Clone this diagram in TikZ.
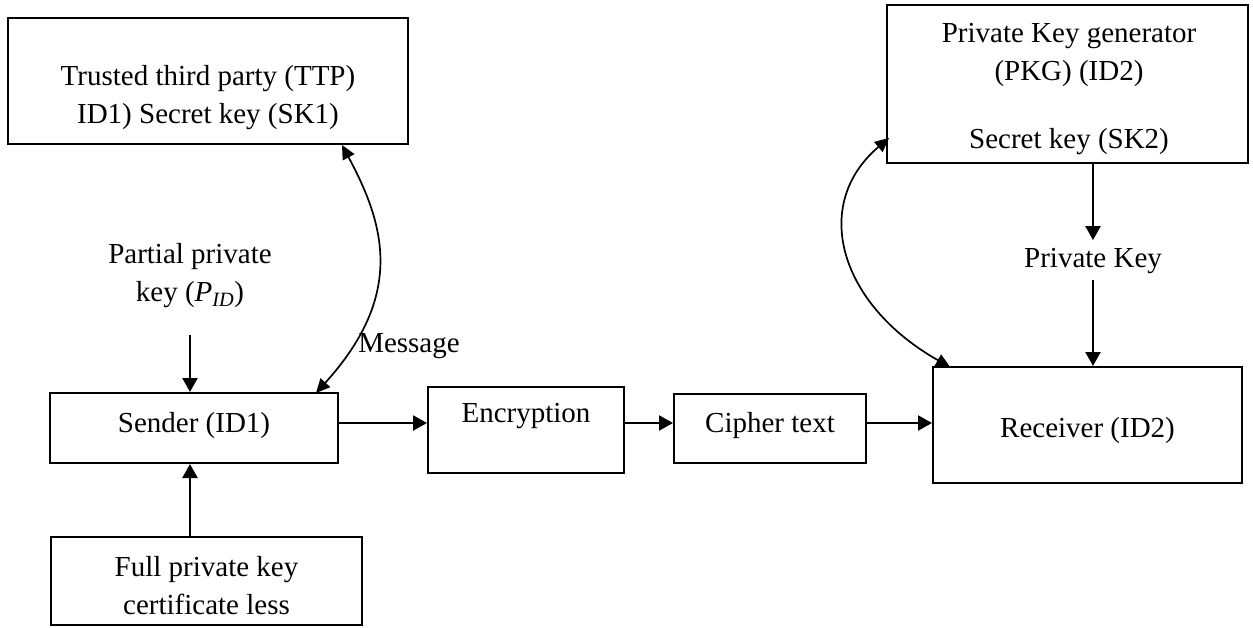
\documentclass[tikz,border=0pt]{standalone}
\usepackage{fontspec}
\setmainfont{Liberation Serif}
\usetikzlibrary{arrows.meta,calc}
\begin{document}
\begin{tikzpicture}[x=1pt,y=-1pt,
  box/.style={draw,line width=2pt,inner sep=0pt,anchor=center},
  txt/.style={inner sep=0pt,align=center,font=\fontsize{29}{38}\selectfont},
  arr/.style={line width=2.2pt,-{Triangle[length=14pt,width=15pt]}},
  curv/.style={line width=1.7pt,{Triangle[length=14pt,width=13pt]}-{Triangle[length=14pt,width=13pt]}}]
\useasboundingbox (0,0) rectangle (1253,628);
% boxes
\node[box,minimum width=400,minimum height=126] (ttp) at (208,81) {};
\node[txt] (ttpt) at (208,98) {Trusted third party (TTP)\\ID1) Secret key (SK1)};
\node[box,minimum width=361,minimum height=158] (pkg) at (1067.5,84) {};
\node[txt] (pkgt) at (1069,55) {Private Key generator\\(PKG) (ID2)};
\node[txt] (pkgs) at (1069,142) {Secret key (SK2)};
\node[box,minimum width=288,minimum height=70] (sender) at (194,428) {};
\node[txt] (sendert) at (194,426) {Sender (ID1)};
\node[box,minimum width=311,minimum height=88] (full) at (206.5,581) {};
\node[txt] (fullt) at (206.5,586) {Full private key\\certificate less};
\node[box,minimum width=196,minimum height=86] (enc) at (526,430) {};
\node[txt] (enct) at (526,416) {Encryption};
\node[box,minimum width=192,minimum height=69] (cip) at (770,428.5) {};
\node[txt] (cipt) at (770,426) {Cipher text};
\node[box,minimum width=309,minimum height=116] (rec) at (1087.5,425) {};
\node[txt] (rect) at (1087.5,431) {Receiver (ID2)};
% labels
\node[txt] (partial) at (190,276) {Partial private\\key (\textit{P}\textsubscript{\textit{ID}})};
\node[txt] (privkey) at (1093,261) {Private Key};
\node[txt] (msg) at (409,346) {Message};
% coordinates
\coordinate (pa) at (190,335);
\coordinate (pk1) at (1093,280);
\coordinate (row) at (0,423);
\coordinate (sTop) at (316,393);
\coordinate (tBot) at (342,145);
\coordinate (rTop) at (950,367);
\coordinate (pLeft) at (889,138);
% arrows
\draw[arr] (pa) -- (pa |- sender.north);
\draw[arr] ([xshift=-4pt]sender.south |- full.north) -- ([xshift=-4pt]sender.south);
\draw[arr] (sender.east |- row) -- (enc.west |- row);
\draw[arr] (enc.east |- row) -- (cip.west |- row);
\draw[arr] (cip.east |- row) -- (rec.west |- row);
\draw[arr] (pkg.south -| privkey) -- ([yshift=8pt]privkey.north);
\draw[arr] (pk1) -- (rec.north -| pk1);
\draw[curv] (sTop) .. controls (405,295) and (385,225) .. (tBot);
\draw[curv] (rTop) .. controls (840,305) and (810,205) .. (pLeft);
\end{tikzpicture}
\end{document}
